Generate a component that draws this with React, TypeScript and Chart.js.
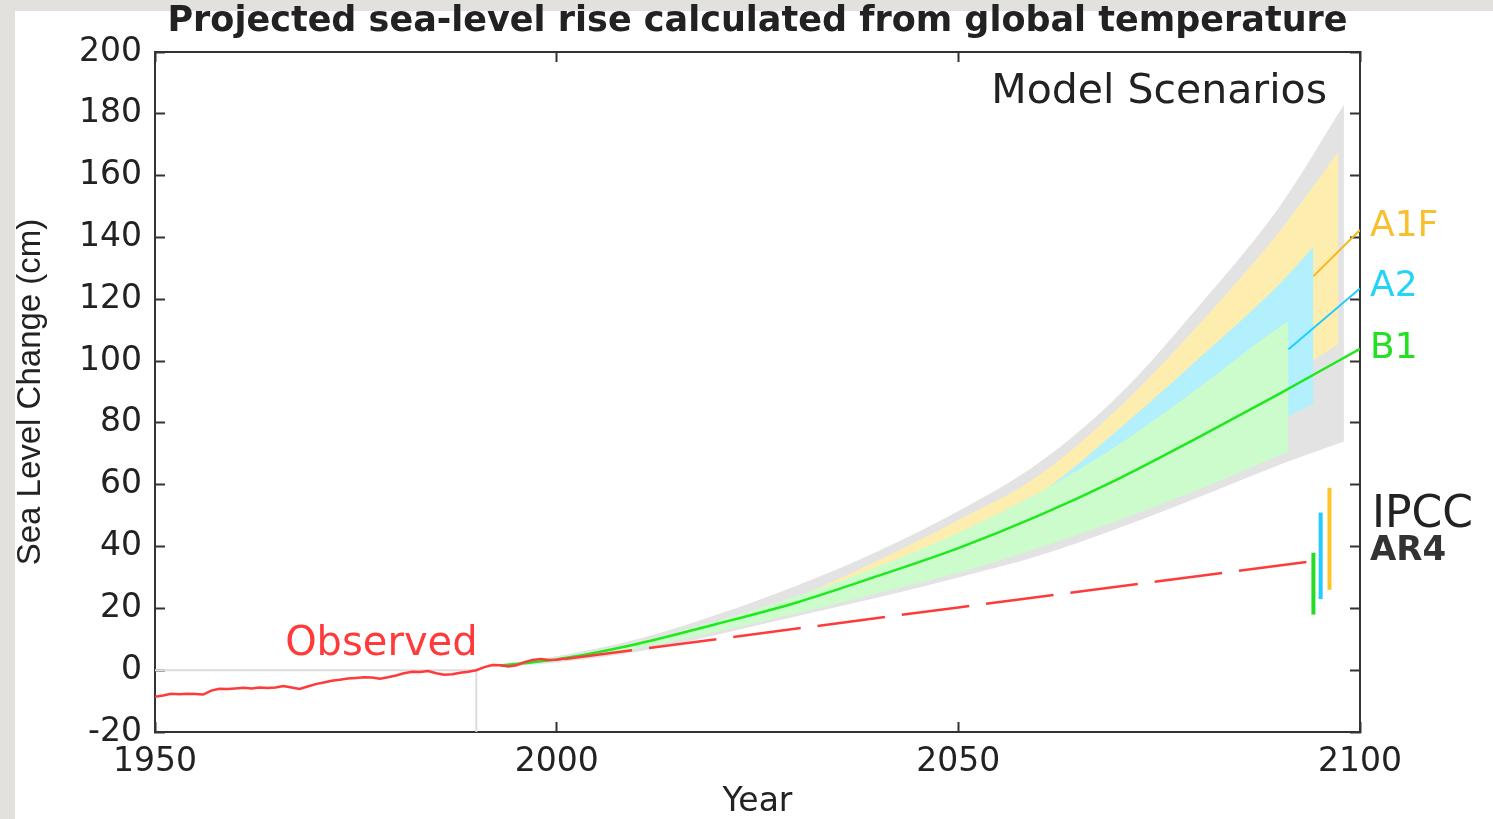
import React, { useEffect, useRef } from "react";
import { Chart, registerables } from "chart.js";

Chart.register(...registerables);

// ---------- data ----------
const obsYears = [1950, 1951, 1952, 1953, 1954, 1955, 1956, 1957, 1958, 1959, 1960, 1961, 1962, 1963, 1964, 1965, 1966, 1967, 1968, 1969, 1970, 1971, 1972, 1973, 1974, 1975, 1976, 1977, 1978, 1979, 1980, 1981, 1982, 1983, 1984, 1985, 1986, 1987, 1988, 1989, 1990, 1991, 1992, 1993, 1994, 1995, 1996, 1997, 1998, 1999, 2000, 2001];
const obsValues = [-8.6, -8.2, -7.6, -7.8, -7.6, -7.7, -7.9, -6.6, -6.0, -6.1, -5.9, -5.7, -5.9, -5.6, -5.8, -5.6, -5.1, -5.6, -6.1, -5.3, -4.5, -4.0, -3.4, -3.1, -2.7, -2.5, -2.3, -2.4, -2.8, -2.3, -1.7, -1.0, -0.5, -0.6, -0.3, -1.0, -1.5, -1.3, -0.8, -0.5, 0.0, 1.0, 1.7, 1.6, 1.2, 1.6, 2.6, 3.3, 3.6, 3.3, 3.4, 3.8];

const trendYears = [2001, 2050, 2094.2];
const trendValues = [3.6, 20.3, 35.3];

const b1Years = [1993, 2000, 2010, 2020, 2030, 2040, 2050, 2060, 2070, 2080, 2090, 2100];
const b1Values = [1.5, 3.5, 8.5, 15, 22, 30.5, 39.5, 50, 62, 75.5, 89.5, 104];

const a2TailYears = [2091.1, 2100];
const a2TailValues = [103.8, 123.5];
const a1fTailYears = [2094.2, 2100];
const a1fTailValues = [127.5, 142.4];

const grayYears = [1993, 2000, 2010, 2020, 2030, 2040, 2050, 2060, 2070, 2080, 2090, 2098];
const grayUpper = [2, 4.5, 10, 18, 27.5, 38.5, 51.5, 67, 89, 118, 150, 183];
const grayLower = [1.0, 2.5, 6, 11.5, 17.5, 23.5, 30, 37, 46, 56, 66.5, 74];

const a1fYears = [2030, 2040, 2050, 2060, 2070, 2080, 2090, 2097.3];
const a1fUpper = [23.5, 35.5, 48.5, 63, 85, 112, 142, 167.7];
const a1fLower = [20, 27, 36, 46, 58, 73, 93, 105.5];

const a2Years = [2030, 2040, 2050, 2060, 2070, 2080, 2090, 2094.2];
const a2Upper = [23, 33, 44, 57, 78, 101, 125, 137];
const a2Lower = [19.5, 26, 33, 41, 52, 65, 80.5, 86.3];

const greenYears = [1993, 2000, 2010, 2020, 2030, 2040, 2050, 2060, 2070, 2080, 2090, 2091.1];
const greenUpper = [1.8, 4, 9, 16, 24, 33.5, 44.5, 57.5, 73, 91.5, 111, 112.7];
const greenLower = [1.3, 3, 7, 12.5, 18.5, 25, 31.5, 39.5, 48.5, 58.5, 69.5, 70.7];

// IPCC AR4 ranges at 2100 (drawn just left of the axis)
const ipccX = [2094.2, 2095.1, 2096.2];
const ipccLow = [18, 23, 26];
const ipccHigh = [38, 51, 59];

const zeroRefYears = [1950, 1990];
const xTickLabels = [1950, 2000, 2050, 2100];
const yTickLabels = [-20, 0, 20, 40, 60, 80, 100, 120, 140, 160, 180, 200];

// ---------- helpers ----------
const pts = (xs: number[], ys: number[]) => xs.map((x, i) => ({ x, y: ys[i] }));
const NONE = "rgba(0,0,0,0)";

const RED = "#ff3a3a";
const GREEN_LINE = "#1fe81f";
const CYAN = "#22ccff";
const ORANGE = "#f6b81c";

function lineDs(data: any[], color: string, width: number, extra: any = {}) {
  return {
    data,
    borderColor: color,
    borderWidth: width,
    backgroundColor: NONE,
    fill: false,
    pointRadius: 0,
    tension: 0,
    xAxisID: "x",
    yAxisID: "y",
    order: 0,
    ...extra,
  };
}

function bandDs(xs: number[], upper: number[], lower: number[], color: string, order: number) {
  return [
    {
      data: pts(xs, upper),
      borderColor: NONE,
      borderWidth: 0,
      backgroundColor: color,
      fill: "+1",
      pointRadius: 0,
      cubicInterpolationMode: "monotone",
      xAxisID: "x",
      yAxisID: "y",
      order,
    },
    {
      data: pts(xs, lower),
      borderColor: NONE,
      borderWidth: 0,
      backgroundColor: NONE,
      fill: false,
      pointRadius: 0,
      cubicInterpolationMode: "monotone",
      xAxisID: "x",
      yAxisID: "y",
      order,
    },
  ];
}

const annotations = {
  id: "annotations",
  afterDraw(chart: any) {
    const { ctx, chartArea } = chart;
    const x = chart.scales.x;
    const y = chart.scales.y;
    const txt = (s: string, px: number, py: number, color: string, font: string, align: CanvasTextAlign) => {
      ctx.save();
      ctx.fillStyle = color;
      ctx.font = font;
      ctx.textAlign = align;
      ctx.textBaseline = "middle";
      ctx.fillText(s, px, py);
      ctx.restore();
    };
    txt("Model Scenarios", chartArea.right - 33, y.getPixelForValue(187), "#222", "41px 'DejaVu Sans'", "right");
    txt("Observed", x.getPixelForValue(1966.2), y.getPixelForValue(8.3), RED, "40px 'DejaVu Sans'", "left");
    const lx = chartArea.right + 10;
    txt("A1F", lx, y.getPixelForValue(143.4), "#f8c02c", "36px 'DejaVu Sans'", "left");
    txt("A2", lx, y.getPixelForValue(124), "#22d4f8", "36px 'DejaVu Sans'", "left");
    txt("B1", lx, y.getPixelForValue(104), "#22e022", "36px 'DejaVu Sans'", "left");
    txt("IPCC", lx + 2, y.getPixelForValue(50), "#222", "44px 'DejaVu Sans'", "left");
    txt("AR4", lx, y.getPixelForValue(38.5), "#333", "bold 34px 'DejaVu Sans'", "left");
  },
};

export default function App() {
  const canvasRef = useRef<HTMLCanvasElement | null>(null);

  useEffect(() => {
    if (!canvasRef.current) return;

    const datasets: any[] = [
      lineDs(pts(obsYears, obsValues), RED, 2.5),
      lineDs(pts(trendYears, trendValues), RED, 2.5, { borderDash: [68, 17] }),
      lineDs(pts(b1Years, b1Values), GREEN_LINE, 2.5, { cubicInterpolationMode: "monotone" }),
      lineDs(pts(a2TailYears, a2TailValues), CYAN, 2),
      lineDs(pts(a1fTailYears, a1fTailValues), ORANGE, 2),
      lineDs(pts([ipccX[0], ipccX[0]], [ipccLow[0], ipccHigh[0]]), "#22dd22", 4),
      lineDs(pts([ipccX[1], ipccX[1]], [ipccLow[1], ipccHigh[1]]), "#22ccff", 4),
      lineDs(pts([ipccX[2], ipccX[2]], [ipccLow[2], ipccHigh[2]]), "#ffc526", 4),
      lineDs(pts(zeroRefYears, [0, 0]), "#dcdcdc", 2),
      lineDs(pts([zeroRefYears[1], zeroRefYears[1]], [-20, 0]), "#dcdcdc", 2),
      ...bandDs(greenYears, greenUpper, greenLower, "#ccfccc", 1),
      ...bandDs(a2Years, a2Upper, a2Lower, "#b1f0fc", 2),
      ...bandDs(a1fYears, a1fUpper, a1fLower, "#fdeeb0", 3),
      ...bandDs(grayYears, grayUpper, grayLower, "#e3e3e3", 4),
    ];

    const tickFont = { family: "'DejaVu Sans'", size: 33 };
    const plainLabel = (v: any) => String(v);
    const chart = new Chart(canvasRef.current, {
      type: "line",
      data: { datasets },
      plugins: [annotations],
      options: {
        responsive: false,
        maintainAspectRatio: false,
        animation: false,
        devicePixelRatio: 1,
        layout: { padding: { left: 0, right: 133, top: 0, bottom: 0 } },
        elements: { point: { radius: 0 } },
        plugins: {
          legend: { display: false },
          tooltip: { enabled: false },
          title: {
            display: true,
            text: "Projected sea-level rise calculated from global temperature",
            fullSize: false,
            color: "#222",
            font: { family: "'DejaVu Sans'", size: 35, weight: "bold", lineHeight: 1.2 },
            padding: { top: 1, bottom: 9 },
          },
        },
        scales: {
          x: {
            type: "linear",
            position: "bottom",
            min: 1950,
            max: 2100,
            afterBuildTicks: (s: any) => {
              s.ticks = xTickLabels.map((v) => ({ value: v }));
            },
            ticks: { color: "#222", font: tickFont, padding: 21, maxRotation: 0, autoSkip: false, callback: plainLabel },
            grid: { drawOnChartArea: false, drawTicks: true, tickLength: -10, tickWidth: 2, tickColor: "#333" },
            border: { display: true, color: "#333", width: 2 },
            title: {
              display: true,
              text: "Year",
              color: "#222",
              font: { family: "'DejaVu Sans'", size: 33, lineHeight: 1 },
              padding: { top: 0, bottom: 0 },
            },
            afterFit: (s: any) => {
              s.height = 87;
            },
          },
          y: {
            type: "linear",
            position: "left",
            min: -20,
            max: 200,
            afterBuildTicks: (s: any) => {
              s.ticks = yTickLabels.map((v) => ({ value: v }));
            },
            ticks: { color: "#222", font: tickFont, padding: 23, callback: plainLabel },
            grid: { drawOnChartArea: false, drawTicks: true, tickLength: -10, tickWidth: 2, tickColor: "#333" },
            border: { display: true, color: "#333", width: 2 },
            title: {
              display: true,
              text: "Sea Level Change (cm)",
              color: "#222",
              font: { family: "'Liberation Sans'", size: 33, lineHeight: 1.2 },
              padding: { top: 11, bottom: 0 },
            },
            afterFit: (s: any) => {
              s.width = 155;
            },
          },
          x2: {
            type: "linear",
            position: "top",
            min: 1950,
            max: 2100,
            afterBuildTicks: (s: any) => {
              s.ticks = xTickLabels.map((v) => ({ value: v }));
            },
            ticks: { display: false },
            grid: { drawOnChartArea: false, drawTicks: true, tickLength: -10, tickWidth: 2, tickColor: "#333" },
            border: { display: true, color: "#333", width: 2 },
            afterFit: (s: any) => {
              s.height = 0;
            },
          },
          y2: {
            type: "linear",
            position: "right",
            min: -20,
            max: 200,
            afterBuildTicks: (s: any) => {
              s.ticks = yTickLabels.map((v) => ({ value: v }));
            },
            ticks: { display: false },
            grid: { drawOnChartArea: false, drawTicks: true, tickLength: -10, tickWidth: 2, tickColor: "#333" },
            border: { display: true, color: "#333", width: 2 },
            afterFit: (s: any) => {
              s.width = 0;
            },
          },
        },
      } as any,
    });

    return () => chart.destroy();
  }, []);

  return (
    <div style={{ position: "absolute", left: 0, top: 0, width: 1493, height: 819, background: "#e3e1dd", overflow: "hidden" }}>
      <div style={{ position: "absolute", left: 15, top: 11, right: 0, bottom: 0, background: "#ffffff" }} />
      <canvas ref={canvasRef} width={1493} height={819} style={{ position: "absolute", left: 0, top: 0 }} />
    </div>
  );
}
